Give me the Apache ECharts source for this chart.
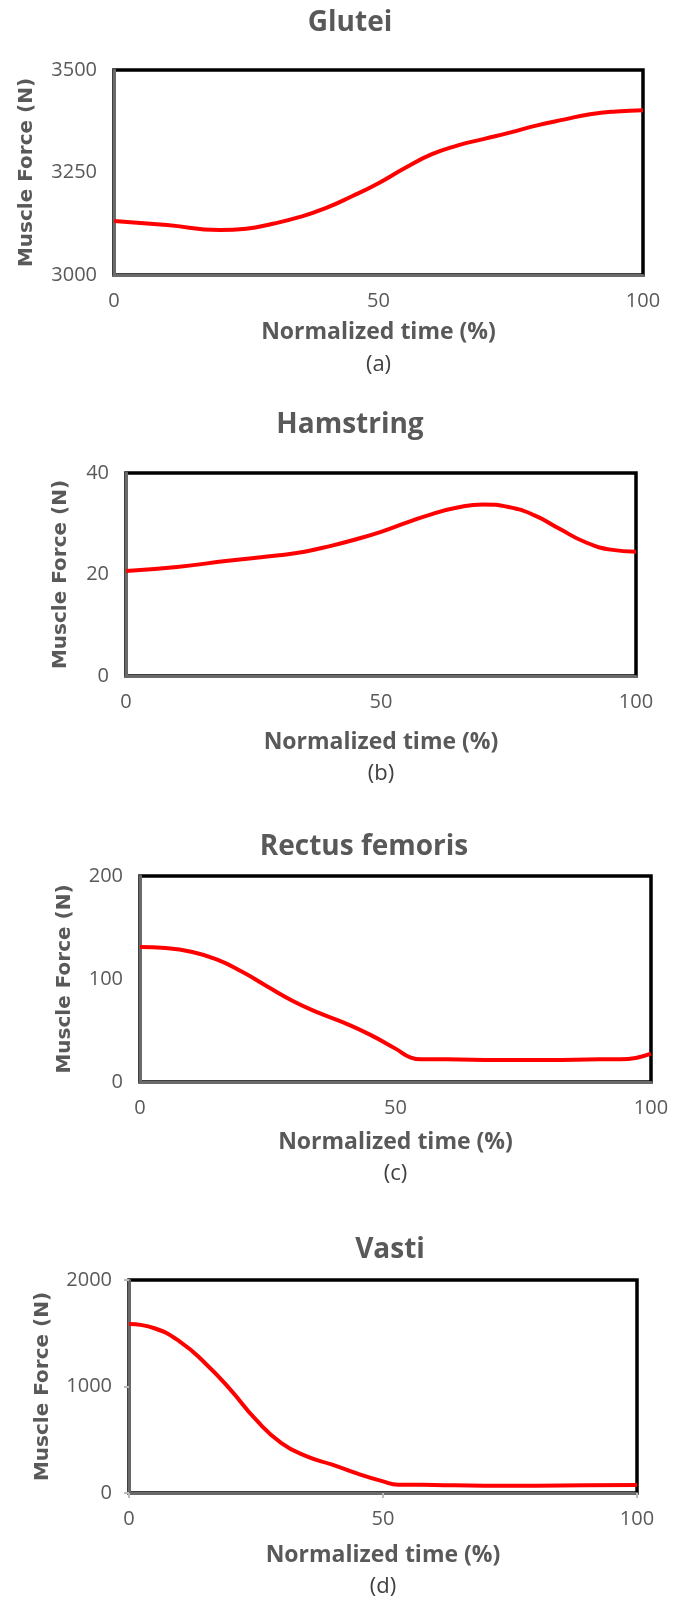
<!DOCTYPE html>
<html>
<head>
<meta charset="UTF-8">
<title>Muscle forces</title>
<script src="https://cdn.jsdelivr.net/npm/echarts@6/dist/echarts.min.js"></script>
</head>
<body style="margin:0;background:#fff">
<div id="container" style="width:683px;height:1600px"></div>
<script type="text/javascript">
// values
var gluteiX = [0, 10, 20, 25, 30, 35, 40, 45, 50, 55, 60, 65, 70, 75, 80, 85, 90, 95, 100];
var gluteiY = [3132, 3122, 3110, 3113, 3125, 3141, 3163, 3192, 3224, 3261, 3294, 3316, 3332, 3348, 3365, 3379, 3392, 3399, 3402];

var hamX = [0, 10, 20, 30, 35, 40, 45, 50, 55, 60, 65, 70, 75, 80, 85, 90, 95, 100];
var hamY = [20.7, 21.5, 22.7, 23.8, 24.5, 25.6, 26.9, 28.4, 30.2, 31.9, 33.2, 33.8, 33.3, 31.7, 29.0, 26.4, 24.9, 24.5];

var rectusX = [0, 5, 10, 15, 20, 25, 30, 35, 40, 45, 50, 53, 55, 60, 70, 80, 90, 94, 100];
var rectusY = [131, 130, 126.4, 119, 107, 92.4, 78.4, 67.1, 57.4, 46, 32.4, 23.7, 22, 22, 21.4, 21.4, 22, 22, 27.6];

var vastiX = [0, 5, 10, 15, 20, 25, 30, 35, 40, 45, 50, 53, 55, 60, 70, 80, 90, 100];
var vastiY = [1587, 1547, 1422, 1219, 969, 688, 469, 344, 266, 181, 109, 78, 78, 75, 69, 69, 72, 75];

var titles = ['Glutei', 'Hamstring', 'Rectus femoris', 'Vasti'];
var subLabels = ['(a)', '(b)', '(c)', '(d)'];
var yMin = [3000, 0, 0, 0];
var yMax = [3500, 40, 200, 2000];
var yStep = [250, 20, 100, 1000];

var dom = document.getElementById('container');
var myChart = echarts.init(dom);

var textGray = '#595959';
var pairs = function (xs, ys) {
    var res = [];
    for (var i = 0; i < xs.length; i++) res.push([xs[i], ys[i]]);
    return res;
};
var allData = [pairs(gluteiX, gluteiY), pairs(hamX, hamY), pairs(rectusX, rectusY), pairs(vastiX, vastiY)];

// panel layout (pixels); titles are not centred on the plots
var panels = [
    {left: 114, right: 40, top: 70, height: 205, tx: 350, ty: 23, sub: 365, xGap: 46, yGap: 77, ticks: false},
    {left: 126, right: 47, top: 473, height: 203, tx: 350, ty: 425, sub: 774, xGap: 55, yGap: 55, ticks: false},
    {left: 140, right: 32, top: 876, height: 206, tx: 364, ty: 847, sub: 1174, xGap: 49, yGap: 65, ticks: false},
    {left: 129, right: 46, top: 1280, height: 213, tx: 390, ty: 1250, sub: 1587, xGap: 51, yGap: 76, ticks: true}
];

var grids = [], xAxes = [], yAxes = [], series = [], graphics = [];
panels.forEach(function (p, i) {
    var cx = p.left + (683 - p.left - p.right) / 2;
    grids.push({
        left: p.left, right: p.right, top: p.top, height: p.height,
        show: true, borderColor: '#000', borderWidth: 3.5, backgroundColor: '#fff'
    });
    xAxes.push({
        gridIndex: i, type: 'value', min: 0, max: 100, interval: 50,
        name: 'Normalized time (%)', nameLocation: 'middle', nameGap: p.xGap,
        nameTextStyle: {fontFamily: 'Open Sans', fontWeight: 'bold', fontSize: 23, color: textGray},
        axisLine: {show: true, onZero: false, lineStyle: {color: '#6a6a6a', width: 3}},
        axisTick: {show: p.ticks, length: 5, lineStyle: {color: '#bbb', width: 2}},
        axisLabel: {margin: 16, fontFamily: 'Open Sans', fontSize: 20, color: textGray},
        splitLine: {show: false}
    });
    yAxes.push({
        gridIndex: i, type: 'value', min: yMin[i], max: yMax[i], interval: yStep[i],
        name: 'Muscle Force (N)', nameLocation: 'middle', nameGap: p.yGap, nameRotate: 90,
        nameTextStyle: {fontFamily: 'DejaVu Sans', fontWeight: 'bold', fontSize: 20, color: textGray},
        axisLine: {show: true, onZero: false, lineStyle: {color: '#6a6a6a', width: 3}},
        axisTick: {show: p.ticks, length: 5, lineStyle: {color: '#bbb', width: 2}},
        axisLabel: {margin: 17, fontFamily: 'Open Sans', fontSize: 20, color: textGray,
            formatter: function (v) { return String(v); }},
        splitLine: {show: false}
    });
    series.push({
        type: 'line', xAxisIndex: i, yAxisIndex: i,
        data: allData[i], smooth: true, showSymbol: false,
        lineStyle: {color: '#ff0000', width: 4}
    });
    graphics.push({
        type: 'text', x: p.tx, y: p.ty,
        style: {text: titles[i], textAlign: 'center', textVerticalAlign: 'middle',
            font: 'bold 28px "Open Sans"', fill: textGray}
    });
    graphics.push({
        type: 'text', x: cx, y: p.sub,
        style: {text: subLabels[i], textAlign: 'center', textVerticalAlign: 'middle',
            font: '22px "Open Sans"', fill: '#404040'}
    });
});

var option = {
    backgroundColor: '#fff',
    animation: false,
    grid: grids,
    xAxis: xAxes,
    yAxis: yAxes,
    series: series,
    graphic: graphics
};
myChart.setOption(option, true);
</script>
</body>
</html>
